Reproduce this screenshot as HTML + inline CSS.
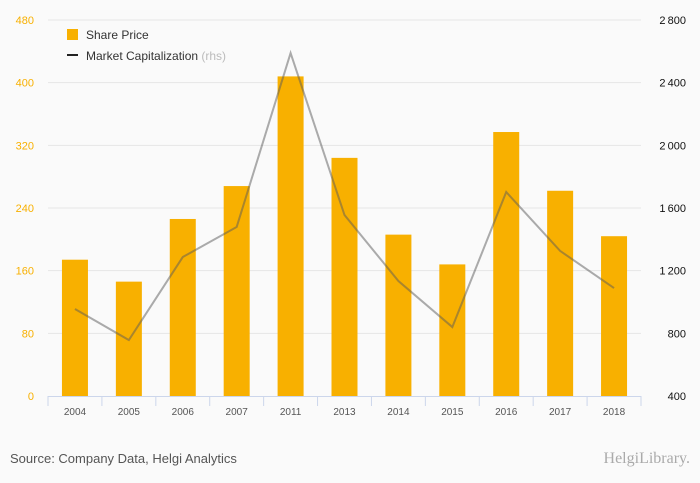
<!DOCTYPE html>
<html><head><meta charset="utf-8"><style>
html,body{margin:0;padding:0;background:#fafafa;}
svg{display:block;font-family:"Liberation Sans",sans-serif;}
</style></head><body>
<svg width="700" height="483" viewBox="0 0 700 483" id="c">
<rect width="700" height="483" fill="#fafafa"/>
<g id="grid"></g><g id="bars"></g><g id="line"></g><g id="axes"></g>
<g>
<rect x="67" y="29" width="11" height="11" fill="#f8b000"/>
<text x="86" y="39" font-size="12" fill="#333">Share Price</text>
<rect x="67" y="54" width="11" height="2" fill="#222"/>
<text x="86" y="60" font-size="12" fill="#333">Market Capitalization <tspan fill="#bbb">(rhs)</tspan></text>
</g>
<text x="10" y="463" font-size="13" fill="#555">Source: Company Data, Helgi Analytics</text>
<text x="690" y="463" font-size="16" fill="#aaa" text-anchor="end" font-family="Liberation Serif,serif">HelgiLibrary.</text>
</svg>
<script>
const categories=["2004","2005","2006","2007","2011","2013","2014","2015","2016","2017","2018"];
const sharePrice=[174,146,226,268,408,304,206,168,337,262,204];
const marketCap=[955,757,1287,1479,2589,1555,1134,840,1702,1326,1089];
const leftTicks=[0,80,160,240,320,400,480];
const rightTicks=[400,800,1200,1600,2000,2400,2800];
const NS="http://www.w3.org/2000/svg";
const X0=48,X1=641,Y0=396,Y1=20;
const bw=(X1-X0)/categories.length;
const xc=i=>X0+bw*(i+0.5);
const yl=v=>Y0-(v/480)*(Y0-Y1);
const yr=v=>Y0-((v-400)/2400)*(Y0-Y1);
function mk(t,a,p){const e=document.createElementNS(NS,t);for(const k in a)e.setAttribute(k,a[k]);p.appendChild(e);return e;}
const g=document.getElementById('grid'),b=document.getElementById('bars'),l=document.getElementById('line'),ax=document.getElementById('axes');
leftTicks.forEach((v,i)=>{
 if(i>0){const ln=mk('line',{x1:X0,x2:X1,y1:yl(v),y2:yl(v),stroke:'#e6e6e6'},g);
 
 }
 const t=mk('text',{x:34,y:yl(v)+4,'font-size':11,fill:'#f8b000','text-anchor':'end'},ax);t.textContent=v;
 
 
});
rightTicks.forEach(v=>{
 const t=mk('text',{x:686,y:yr(v)+4,'font-size':11,fill:'#111','text-anchor':'end'},ax);t.textContent=v.toLocaleString('en-US').replace(',','\u2009');
 
 
});
categories.forEach((c,i)=>{
 const r=mk('rect',{x:xc(i)-13,y:yl(sharePrice[i]),width:26,height:Y0-yl(sharePrice[i]),fill:'#f8b000'},b);
 
 
 const t=mk('text',{x:xc(i),y:415,'font-size':10,fill:'#555','text-anchor':'middle'},ax);t.textContent=c;
 
 
 const tk=mk('line',{x1:X0+bw*i,x2:X0+bw*i,y1:Y0,y2:Y0+10,stroke:'#ccd6eb'},ax);
 
 
});
const tl=mk('line',{x1:X1,x2:X1,y1:Y0,y2:Y0+10,stroke:'#ccd6eb'},ax);


const xa=mk('line',{x1:X0,x2:X1,y1:Y0+0.5,y2:Y0+0.5,stroke:'#ccd6eb'},ax);


const p=mk('polyline',{points:marketCap.map((v,i)=>xc(i)+','+yr(v)).join(' '),fill:'none',stroke:'rgba(90,90,90,0.5)','stroke-width':2},l);


</script>
</body></html>
